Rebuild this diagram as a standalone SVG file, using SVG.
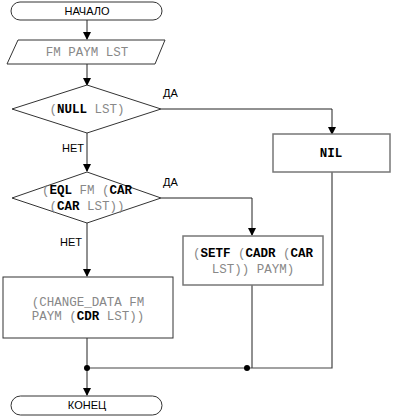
<svg xmlns="http://www.w3.org/2000/svg" width="393" height="418" viewBox="0 0 393 418">
<defs>
<style>
.sh{fill:#fff;stroke:#333;stroke-width:1}
.bx{fill:#fff;stroke:#777;stroke-width:1.5}
.ln{fill:none;stroke:#222;stroke-width:1}
.lb{font-family:"Liberation Sans",Arial,sans-serif;font-size:11px;fill:#000}
.code{font-family:"Liberation Mono","Courier New",monospace;font-size:12.5px;fill:#888}
.b{font-weight:bold;fill:#000}
</style>
<marker id="ar" markerWidth="8" markerHeight="8" refX="7" refY="4" orient="auto" markerUnits="userSpaceOnUse">
<path d="M0,0 L8,4 L0,8 z" fill="#000"/>
</marker>
</defs>
<g id="connectors">
<path class="ln" d="M87,20 V39" marker-end="url(#ar)"/>
<path class="ln" d="M87,64 V85" marker-end="url(#ar)"/>
<path class="ln" d="M161,109 H332 V134" marker-end="url(#ar)"/>
<path class="ln" d="M87,133 V171" marker-end="url(#ar)"/>
<path class="ln" d="M161,198 H252 V235" marker-end="url(#ar)"/>
<path class="ln" d="M87,223 V276" marker-end="url(#ar)"/>
<path class="ln" d="M87,338 V395" marker-end="url(#ar)"/>
<path class="ln" d="M252,285 V368"/>
<path fill="none" stroke="#444" stroke-width="1.2" d="M332,172 V368 H87"/>
<circle cx="87" cy="368" r="3" fill="#000"/>
<circle cx="247" cy="368" r="3" fill="#000"/>
<text class="lb" x="163" y="97">ДА</text>
<text class="lb" x="62" y="152">НЕТ</text>
<text class="lb" x="163" y="186">ДА</text>
<text class="lb" x="60" y="246">НЕТ</text>
</g>
<g id="start">
<rect class="sh" x="11" y="2" width="151" height="18" rx="9"/>
<text class="lb" x="87" y="15" text-anchor="middle">НАЧАЛО</text>
</g>
<g id="input">
<polygon class="sh" points="18,40 165,40 155,64 7,64"/>
<text class="code" x="87" y="56" text-anchor="middle">FM PAYM LST</text>
</g>
<g id="cond1">
<polygon class="sh" points="87,85 161,109 87,133 12,109"/>
<text class="code" x="87" y="113" text-anchor="middle">(<tspan class="b">NULL</tspan> LST)</text>
</g>
<g id="nil">
<rect class="bx" x="273" y="134" width="117" height="38"/>
<text class="code" x="331" y="157" text-anchor="middle"><tspan class="b">NIL</tspan></text>
</g>
<g id="cond2">
<polygon class="sh" points="87,172 161,198 87,223 12,198"/>
<text class="code" x="87" y="194" text-anchor="middle">(<tspan class="b">EQL</tspan> FM (<tspan class="b">CAR</tspan></text>
<text class="code" x="87" y="210" text-anchor="middle">(<tspan class="b">CAR</tspan> LST))</text>
</g>
<g id="setf">
<rect class="bx" x="183" y="236" width="140" height="49"/>
<text class="code" x="253" y="257" text-anchor="middle">(<tspan class="b">SETF</tspan> (<tspan class="b">CADR</tspan> (<tspan class="b">CAR</tspan></text>
<text class="code" x="253" y="273" text-anchor="middle">LST)) PAYM)</text>
</g>
<g id="change">
<rect class="sh" x="3" y="277" width="170" height="61"/>
<text class="code" x="88" y="306" text-anchor="middle">(CHANGE_DATA FM</text>
<text class="code" x="88" y="320" text-anchor="middle">PAYM (<tspan class="b">CDR</tspan> LST))</text>
</g>
<g id="end">
<rect class="sh" x="11" y="396" width="151" height="19" rx="9.5"/>
<text class="lb" x="87" y="409" text-anchor="middle">КОНЕЦ</text>
</g>
</svg>
